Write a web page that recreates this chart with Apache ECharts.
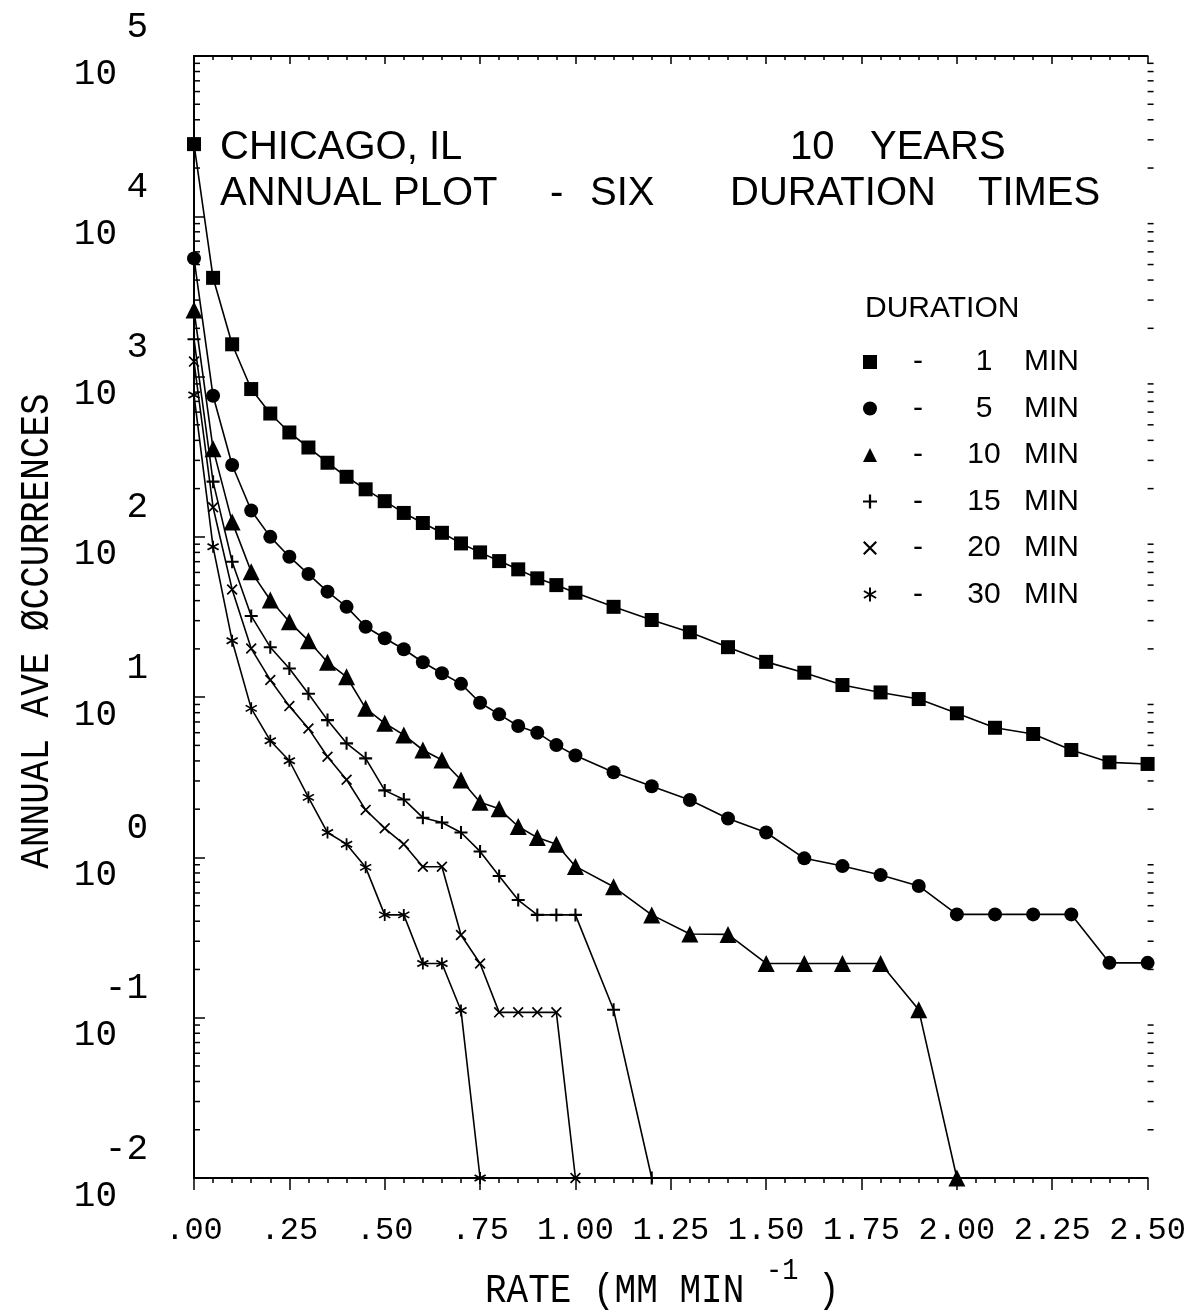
<!DOCTYPE html>
<html>
<head>
<meta charset="utf-8">
<script src="https://cdn.jsdelivr.net/npm/echarts@6/dist/echarts.min.js"></script>
<style>
  html, body { margin: 0; padding: 0; background: #fff; }
  #chart { width: 1189px; height: 1315px; }
</style>
</head>
<body>
<div id="chart"></div>
<script>
// Rainfall rate classes (mm/min)
const rate = [0, 0.05, 0.10, 0.15, 0.20, 0.25, 0.30, 0.35, 0.40, 0.45, 0.50,
  0.55, 0.60, 0.65, 0.70, 0.75, 0.80, 0.85, 0.90, 0.95, 1.00,
  1.1, 1.2, 1.3, 1.4, 1.5, 1.6, 1.7, 1.8, 1.9, 2.0, 2.1, 2.2, 2.3, 2.4, 2.5];

// Annual average occurrences for each duration (aligned with rate)
const occ1min = [28200, 4130, 1590, 836, 588, 448, 361, 290, 237, 198, 167,
  141, 122, 106, 91, 80, 70.6, 62.7, 55.1, 50.0, 44.8,
  36.6, 30.3, 25.4, 20.5, 16.6, 14.2, 11.9, 10.7, 9.73, 7.93, 6.44, 5.89, 4.68, 3.92, 3.83];
const occ5min = [5460, 759, 281, 146, 100, 75.2, 58.6, 45.5, 36.6, 27.5, 23.3,
  19.9, 16.5, 14.1, 12.1, 9.23, 7.81, 6.61, 6.00, 5.02, 4.32,
  3.40, 2.78, 2.28, 1.75, 1.43, 0.987, 0.883, 0.776, 0.664, 0.441, 0.441, 0.441, 0.441, 0.220, 0.220];
const occ10min = [2600, 354, 124, 60.5, 40.4, 29.5, 22.5, 16.5, 13.4, 8.51, 6.87,
  5.81, 4.68, 4.05, 3.04, 2.21, 2.01, 1.56, 1.33, 1.21, 0.879,
  0.656, 0.438, 0.333, 0.331, 0.218, 0.218, 0.218, 0.218, 0.112, 0.01];
const occ15min = [1710, 221, 70.0, 32.1, 20.5, 15.1, 10.5, 7.19, 5.15, 4.15, 2.62,
  2.30, 1.77, 1.65, 1.43, 1.09, 0.766, 0.542, 0.438, 0.438, 0.438,
  0.112, 0.01];
const occ20min = [1240, 153, 47.0, 20.1, 12.8, 8.79, 6.38, 4.25, 3.05, 1.98, 1.52,
  1.21, 0.875, 0.875, 0.328, 0.218, 0.108, 0.108, 0.108, 0.108, 0.01];
const occ30min = [767, 86.7, 22.5, 8.51, 5.35, 4.01, 2.37, 1.43, 1.21, 0.867, 0.438,
  0.438, 0.218, 0.218, 0.111, 0.01];

const durations = [1, 5, 10, 15, 20, 30];
const seriesValues = [occ1min, occ5min, occ10min, occ15min, occ20min, occ30min];

// Log-axis minor tick mantissas and decades
const minorMantissa = [2, 3, 4, 5, 6, 7, 8, 9];
const decadeExponents = [-2, -1, 0, 1, 2, 3, 4];

const MONO = '"Liberation Mono", "DejaVu Sans Mono", monospace';
const SANS = '"Liberation Sans", Arial, sans-serif';

// Marker shapes
const PLUS = 'path://M4.2,0H5.8V4.2H10V5.8H5.8V10H4.2V5.8H0V4.2H4.2Z';
const CROSS = 'path://M0,1.1L1.1,0L10,8.9L8.9,10Z M8.9,0L10,1.1L1.1,10L0,8.9Z';
const STAR = 'path://M4.3,0H5.7V10H4.3Z M0.32,3.106L1.02,1.894L9.68,6.894L8.98,8.106Z M0.32,6.894L8.98,1.894L9.68,3.106L1.02,8.106Z';
const markers = [
  { symbol: 'rect', size: 14 },
  { symbol: 'circle', size: 14 },
  { symbol: 'triangle', size: 17 },
  { symbol: PLUS, size: 13 },
  { symbol: CROSS, size: 11 },
  { symbol: STAR, size: 12 }
];

const chart = echarts.init(document.getElementById('chart'), null, { renderer: 'canvas' });

const lineSeries = durations.map((d, i) => ({
  type: 'line',
  name: d + ' MIN',
  data: seriesValues[i].map((v, j) => [rate[j], v]),
  symbol: markers[i].symbol,
  symbolSize: markers[i].size,
  showAllSymbol: true,
  clip: false,
  lineStyle: { color: '#000', width: 1.6 },
  itemStyle: { color: '#000', borderWidth: 0 },
  emphasis: { disabled: true },
  z: 3
}));

const minorTickValues = decadeExponents.flatMap(e => minorMantissa.map(m => m * Math.pow(10, e)));

const minorTickSeries = {
  type: 'custom',
  silent: true,
  clip: false,
  xAxisIndex: 0,
  yAxisIndex: 0,
  data: minorTickValues.map(v => [0, v]),
  encode: { x: 0, y: 1 },
  renderItem: function (params, api) {
    const v = api.value(1);
    const pL = api.coord([0, v]);
    const pR = api.coord([2.5, v]);
    return {
      type: 'group',
      children: [
        { type: 'line', shape: { x1: pL[0], y1: pL[1], x2: pL[0] + 6, y2: pL[1] }, style: { stroke: '#000', lineWidth: 1.5 } },
        { type: 'line', shape: { x1: pR[0], y1: pR[1], x2: pR[0] + 6, y2: pR[1] }, style: { stroke: '#000', lineWidth: 1.5 } }
      ]
    };
  }
};

function xLabel(v) {
  const s = v.toFixed(2);
  return v < 1 ? s.slice(1) : s;
}

function txt(x, y, text, size, family, extra) {
  return Object.assign({
    type: 'text', x: x, y: y, silent: true,
    style: Object.assign({
      text: text, fontSize: size, fontFamily: family, fill: '#000',
      align: 'left', verticalAlign: 'middle'
    }, (extra && extra.style) || {})
  }, (extra && extra.el) || {});
}

const option = {
  animation: false,
  backgroundColor: '#fff',
  grid: { left: 194, top: 56, right: 37, bottom: 137 },
  xAxis: [
    {
      type: 'value', position: 'bottom', min: 0, max: 2.5, interval: 0.25,
      axisLine: { lineStyle: { color: '#000', width: 2 } },
      axisTick: { show: true, length: 12, lineStyle: { color: '#000', width: 1.5 } },
      minorTick: { show: true, splitNumber: 5, length: 5, lineStyle: { color: '#000', width: 1.5 } },
      splitLine: { show: false },
      axisLabel: {
        formatter: xLabel, margin: 37, color: '#000',
        fontFamily: MONO, fontSize: 32, lineHeight: 32
      }
    },
    {
      type: 'value', position: 'top', min: 0, max: 2.5, interval: 0.25,
      axisLine: { lineStyle: { color: '#000', width: 2 } },
      axisTick: { show: true, inside: true, length: 8, lineStyle: { color: '#000', width: 1.5 } },
      minorTick: { show: true, splitNumber: 5, length: 4, lineStyle: { color: '#000', width: 1.5 } },
      splitLine: { show: false },
      axisLabel: { show: false }
    }
  ],
  yAxis: [
    {
      type: 'log', logBase: 10, position: 'left', min: 0.01, max: 100000, interval: 1,
      axisLine: { show: true, lineStyle: { color: '#000', width: 2 } },
      axisTick: { show: true, inside: true, length: 11, lineStyle: { color: '#000', width: 1.5 } },
      splitLine: { show: false },
      axisLabel: {
        margin: 46, color: '#000', hideOverlap: false,
        showMinLabel: true, showMaxLabel: true,
        padding: [0, 0, 11, 0],
        formatter: function (v) {
          const e = Math.round(Math.log10(v));
          return '{e|' + e + '}\n{b|10}';
        },
        rich: {
          e: { fontFamily: MONO, fontSize: 36, lineHeight: 47, color: '#000' },
          b: { fontFamily: MONO, fontSize: 36, lineHeight: 47, color: '#000', padding: [0, 31, 0, 0] }
        }
      }
    },
    {
      type: 'log', logBase: 10, position: 'right', min: 0.01, max: 100000, interval: 1,
      axisLine: { show: true, lineStyle: { color: '#000', width: 2 } },
      axisTick: { show: true, inside: false, length: 7, lineStyle: { color: '#000', width: 1.5 } },
      splitLine: { show: false },
      axisLabel: { show: false }
    }
  ],
  legend: {
    orient: 'vertical',
    left: 858, top: 342,
    itemWidth: 14, itemHeight: 14, itemGap: 16.5,
    selectedMode: false,
    data: durations.map((d, i) => ({ name: d + ' MIN', icon: markers[i].symbol, itemStyle: { color: '#000' } })),
    formatter: function (name) {
      return '{d|-}{n|' + name.split(' ')[0] + '}{m|MIN}';
    },
    textStyle: {
      rich: {
        d: { width: 72, align: 'center', fontFamily: SANS, fontSize: 30, lineHeight: 30, color: '#000' },
        n: { width: 60, align: 'right', fontFamily: SANS, fontSize: 30, lineHeight: 30, color: '#000' },
        m: { padding: [0, 0, 0, 10], fontFamily: SANS, fontSize: 30, lineHeight: 30, color: '#000' }
      }
    }
  },
  graphic: [
    // Title block
    txt(220, 148, 'CHICAGO, IL', 40, SANS),
    txt(790, 148, '10', 40, SANS),
    txt(870, 148, 'YEARS', 40, SANS),
    txt(220, 194, 'ANNUAL', 40, SANS),
    txt(393, 194, 'PLOT', 40, SANS),
    txt(550, 194, '-', 40, SANS),
    txt(590, 194, 'SIX', 40, SANS),
    txt(730, 194, 'DURATION', 40, SANS),
    txt(978, 194, 'TIMES', 40, SANS),
    // Legend header
    txt(865, 309, 'DURATION', 30, SANS),
    // Axis names
    txt(485, 1291, 'RATE (MM MIN', 40, MONO, { el: { scaleX: 0.9 } }),
    txt(766, 1271, '-1', 30, MONO, { el: { scaleX: 0.9 } }),
    txt(818, 1291, ')', 40, MONO, { el: { scaleX: 0.9 } }),
    txt(37, 631, 'ANNUAL AVE \u00D8CCURRENCES', 40, MONO, { el: { rotation: Math.PI / 2, scaleX: 0.9 }, style: { align: 'center' } })
  ],
  series: lineSeries.concat([minorTickSeries])
};

chart.setOption(option);
</script>
</body>
</html>
